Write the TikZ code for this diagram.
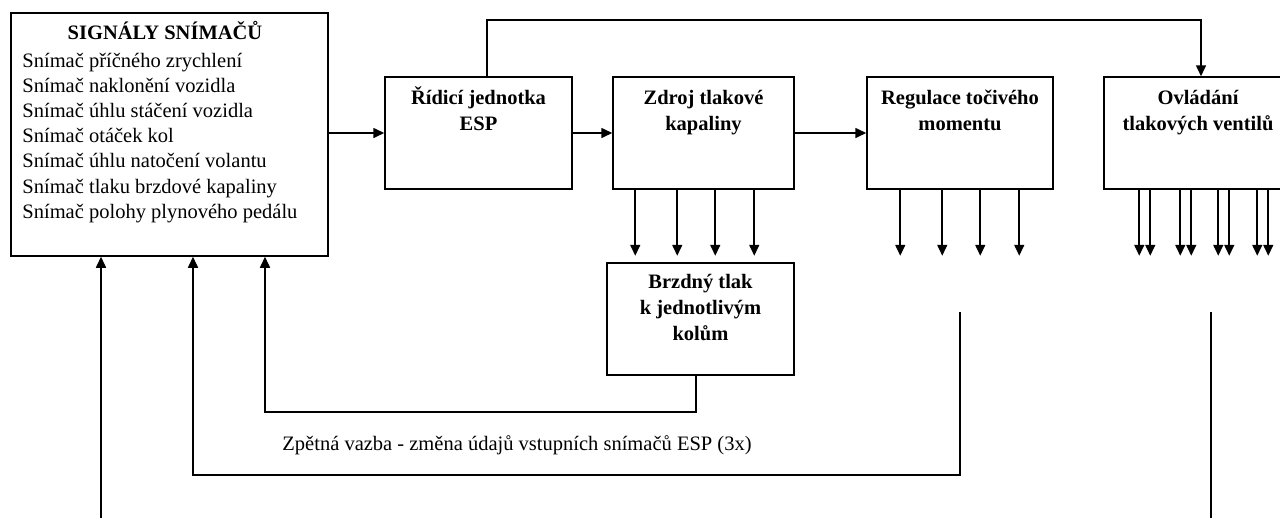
\documentclass[tikz,border=0pt]{standalone}
\usepackage{fontspec}
\setmainfont{Liberation Serif}
\usetikzlibrary{arrows.meta,calc}
\tikzstyle{box}=[rectangle,draw,line width=1.5pt,inner sep=0pt,fill=white]
\tikzstyle{title}=[align=center,anchor=north,inner sep=0pt,font=\bfseries\fontsize{20.5}{26}\selectfont]
\tikzstyle{list}=[align=left,anchor=north west,inner sep=0pt,font=\fontsize{20.5}{25.2}\selectfont]
\tikzstyle{flow}=[-{Triangle[length=11pt,width=10pt]},line width=1.6pt]
\begin{document}
\begin{tikzpicture}[x=1pt,y=-1pt]
  \useasboundingbox (0,0) rectangle (1280,517);
  \node[box,minimum width=317pt,minimum height=243pt,
    label={[title,xshift=-4.5pt,yshift=-9pt]north:{\strut SIGNÁLY SNÍMAČŮ}},
    label={[list,xshift=12pt,yshift=-37pt]north west:{\strut Snímač příčného zrychlení\\Snímač naklonění vozidla\\Snímač úhlu stáčení vozidla\\Snímač otáček kol\\Snímač úhlu natočení volantu\\Snímač tlaku brzdové kapaliny\\Snímač polohy plynového pedálu}}] (S) at (169.5,134.5) {};
  \node[box,minimum width=187pt,minimum height=112pt,
    label={[title,yshift=-10pt]north:{\strut Řídicí jednotka\\ESP}}] (E) at (478.5,133) {};
  \node[box,minimum width=181pt,minimum height=112pt,
    label={[title,yshift=-10pt]north:{\strut Zdroj tlakové\\kapaliny}}] (Z) at (703.5,133) {};
  \node[box,minimum width=186pt,minimum height=112pt,
    label={[title,yshift=-10pt]north:{\strut Regulace točivého\\momentu}}] (R) at (960,133) {};
  \node[box,minimum width=194pt,minimum height=112pt,
    label={[title,xshift=-3pt,yshift=-10pt]north:{\strut Ovládání\\tlakových ventilů}}] (O) at (1201,133) {};
  \node[box,minimum width=187pt,minimum height=112pt,
    label={[title,yshift=-8pt]north:{\strut Brzdný tlak\\k jednotlivým\\kolům}}] (B) at (700.5,319) {};
  \node[font=\fontsize{20.5}{25.2}\selectfont] (T) at (517,445) {Zpětná vazba - změna údajů vstupních snímačů ESP (3x)};

  \coordinate (top) at (0,20);
  \coordinate (fb1) at (265,412);
  \coordinate (fb2) at (193,475);
  \coordinate (fb3) at (101,540);

  \draw[flow] (S.east |- E) -- (E.west); \draw[flow] (E) -- (Z); \draw[flow] (Z) -- (R);
  \draw[flow] ([xshift=8.5pt]E.north) |- (O.north |- top) -- (O.north);
  \foreach \x in {23,65,103,142} \draw[flow] ([xshift=\x pt]Z.south west) -- ++(0,66);
  \foreach \x in {34,76,114,153} \draw[flow] ([xshift=\x pt]R.south west) -- ++(0,66);
  \foreach \x in {36,47,77,88,115,126,154,165} \draw[flow] ([xshift=\x pt]O.south west) -- ++(0,66);
  \draw[flow] ([xshift=-4.5pt]B.south) |- (fb1) -- (fb1 |- S.south);
  \draw[flow] ([yshift=-122pt]R.south) |- (fb2) -- (fb2 |- S.south);
  \draw[flow] ([xshift=10pt,yshift=-122pt]O.south) |- (fb3) -- (fb3 |- S.south);
\end{tikzpicture}
\end{document}
